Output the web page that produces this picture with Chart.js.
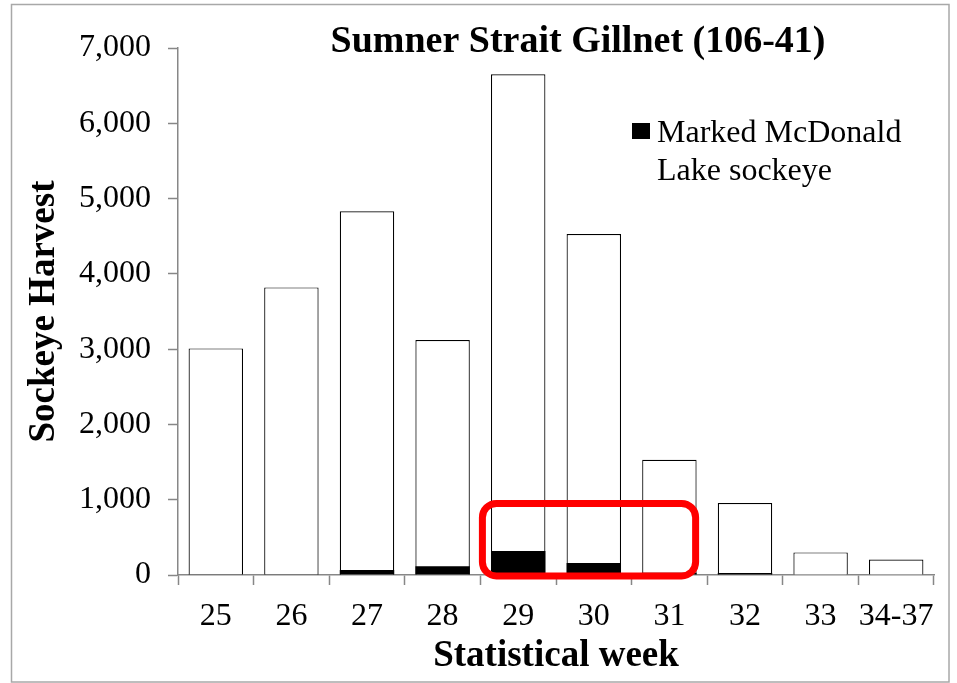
<!DOCTYPE html>
<html>
<head>
<meta charset="utf-8">
<script src="https://cdn.jsdelivr.net/npm/chart.js@4.4.1/dist/chart.umd.min.js"></script>
<style>
  html, body { margin: 0; padding: 0; background: #fff; }
  #wrap { width: 957px; height: 683px; position: relative; }
</style>
</head>
<body>
<div id="wrap"><canvas id="harvest-chart" width="957" height="683"></canvas></div>
<script>
// values
const weeks = ["25", "26", "27", "28", "29", "30", "31", "32", "33", "34-37"];
const totalHarvest = [3010, 3820, 4830, 3120, 6650, 4530, 1530, 955, 300, 205];
const markedSockeye = [10, 10, 65, 115, 320, 160, 30, 25, 5, 5];
const yTicks = [0, 1000, 2000, 3000, 4000, 5000, 6000, 7000];
const chartTitle = "Sumner Strait Gillnet (106-41)";
const legendLines = ["Marked McDonald", "Lake sockeye"];
const highlightWeeks = ["29", "31"];
const highlightTop = 950;

const serif = "'Liberation Serif', 'Times New Roman', serif";
const axisGray = "#878787";

// frame, title, legend and the red highlight box
const extras = {
    id: "extras",
    afterDraw(chart) {
        const ctx = chart.ctx;
        const x = chart.scales.x;
        const y = chart.scales.y;
        ctx.save();

        ctx.strokeStyle = "#a8a8a8";
        ctx.lineWidth = 1.5;
        ctx.strokeRect(11.5, 4.5, 937.5, 677.5);

        ctx.fillStyle = "#000";
        ctx.font = "bold 38px " + serif;
        ctx.textAlign = "center";
        ctx.textBaseline = "alphabetic";
        ctx.fillText(chartTitle, 578, 52);

        // legend
        const legendX = 632, legendY = 123;
        ctx.fillRect(legendX, legendY, 18, 16);
        ctx.font = "32px " + serif;
        ctx.textAlign = "left";
        ctx.fillText(legendLines[0], legendX + 25, legendY + 19);
        ctx.fillText(legendLines[1], legendX + 25, legendY + 57);

        // red box
        const slot = (x.right - x.left) / weeks.length;
        const i0 = weeks.indexOf(highlightWeeks[0]);
        const i1 = weeks.indexOf(highlightWeeks[1]);
        const bx0 = x.getPixelForValue(i0) - slot / 2 + 2;
        const bx1 = x.getPixelForValue(i1) + slot * 0.72 / 2 - 1;
        const by0 = y.getPixelForValue(highlightTop);
        const by1 = y.getPixelForValue(0) + 1;
        ctx.strokeStyle = "#ff0000";
        ctx.lineWidth = 7;
        ctx.beginPath();
        ctx.roundRect(bx0, by0, bx1 - bx0, by1 - by0, 14);
        ctx.stroke();

        ctx.restore();
    }
};

let harvestChart = new Chart("harvest-chart", {
    type: "bar",
    data: {
        labels: weeks,
        datasets: [
            {
                label: "Marked McDonald Lake sockeye",
                data: markedSockeye,
                backgroundColor: "#000",
                borderWidth: 0,
                order: 0,
            },
            {
                label: "Total sockeye",
                data: totalHarvest,
                backgroundColor: "#fff",
                borderColor: "#000",
                borderWidth: 1.2,
                order: 1,
            },
        ]
    },
    options: {
        responsive: false,
        animation: false,
        maintainAspectRatio: false,
        layout: {
            padding: { top: 48, left: 18, right: 23, bottom: 0 }
        },
        datasets: {
            bar: { barPercentage: 0.72, categoryPercentage: 1.0, grouped: false }
        },
        plugins: {
            legend: { display: false },
            title: { display: false },
            tooltip: { enabled: false },
        },
        scales: {
            x: {
                stacked: true,
                afterFit: function (scale) { scale.height = 108; },
                border: { color: axisGray, width: 1.5 },
                grid: {
                    offset: true,
                    drawOnChartArea: false,
                    tickLength: 10,
                    color: axisGray,
                    tickWidth: 1.5,
                },
                ticks: {
                    color: "#000",
                    padding: 12,
                    autoSkip: false,
                    maxRotation: 0,
                    font: { family: serif, size: 32 },
                },
                title: {
                    display: true,
                    text: "Statistical week",
                    color: "#000",
                    padding: { top: 4, bottom: 4 },
                    font: { family: serif, size: 37, weight: "bold" },
                },
            },
            y: {
                stacked: false,
                min: 0,
                max: 7000,
                afterFit: function (scale) { scale.width = 160; },
                afterBuildTicks: function (scale) {
                    scale.ticks = yTicks.map(v => ({ value: v }));
                },
                border: { color: axisGray, width: 1.5 },
                grid: {
                    drawOnChartArea: false,
                    tickLength: 10,
                    color: axisGray,
                    tickWidth: 1.5,
                },
                ticks: {
                    color: "#000",
                    padding: 17,
                    font: { family: serif, size: 32 },
                    callback: (v) => v.toLocaleString("en-US"),
                },
                title: {
                    display: true,
                    text: "Sockeye Harvest",
                    color: "#000",
                    padding: { top: 4, bottom: 4 },
                    font: { family: serif, size: 37, weight: "bold" },
                },
            },
        }
    },
    plugins: [extras]
});
</script>
</body>
</html>
